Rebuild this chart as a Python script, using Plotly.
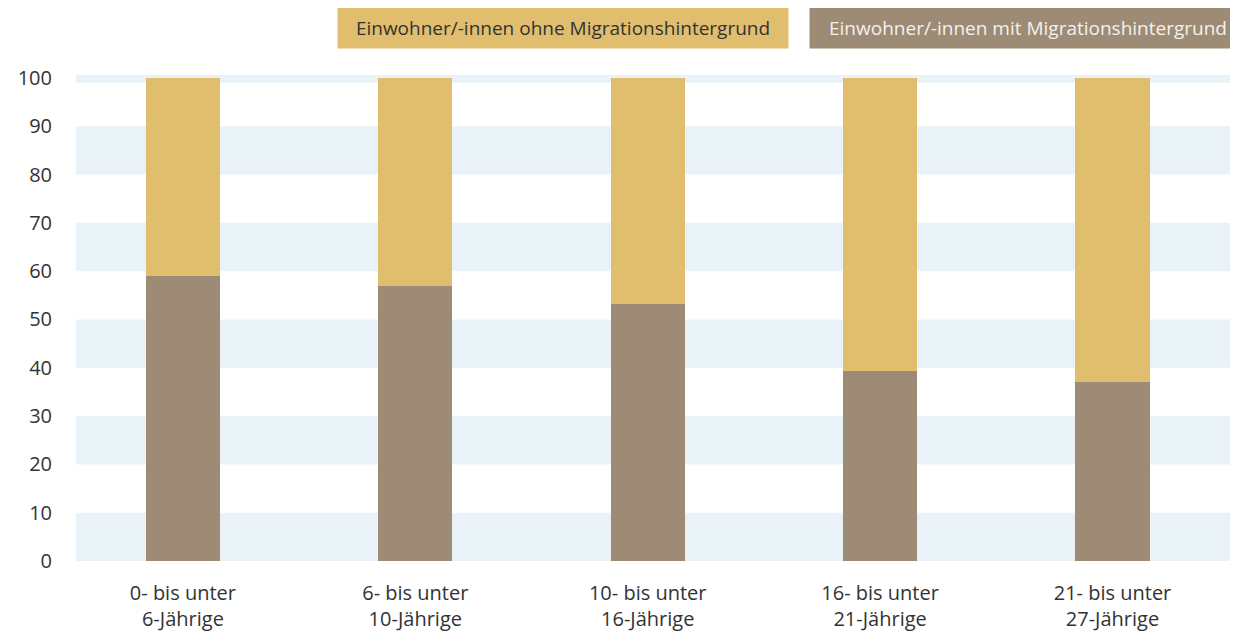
import plotly.graph_objects as go

# Altersgruppen und Anteile (%) je Gruppe
categories = [
    "0- bis unter<br>6-Jährige",
    "6- bis unter<br>10-Jährige",
    "10- bis unter<br>16-Jährige",
    "16- bis unter<br>21-Jährige",
    "21- bis unter<br>27-Jährige",
]
mit_migration = [59.0, 57.0, 53.3, 39.3, 37.0]
ohne_migration = [41.0, 43.0, 46.7, 60.7, 63.0]
y_ticks = [0, 10, 20, 30, 40, 50, 60, 70, 80, 90, 100]

label_ohne = "Einwohner/-innen ohne Migrationshintergrund"
label_mit = "Einwohner/-innen mit Migrationshintergrund"

YELLOW = "#E0BE6E"
BROWN = "#9D8B75"
BAND = "#E9F2F6"
FONT = "Open Sans"

PLOT_W = 1170  # plot area width in px

fig = go.Figure()

fig.add_trace(go.Bar(
    x=categories, y=mit_migration, name=label_mit,
    marker=dict(color=BROWN, line=dict(width=0)), width=0.32,
))
fig.add_trace(go.Bar(
    x=categories, y=ohne_migration, name=label_ohne,
    marker=dict(color=YELLOW, line=dict(width=0)), width=0.32,
))

# alternating background bands
shapes = []
for lo in range(0, 100, 20):
    shapes.append(dict(type="rect", xref="paper", yref="y", x0=0, x1=1,
                       y0=lo, y1=lo + 10, fillcolor=BAND, line_width=0, layer="below"))
shapes.append(dict(type="rect", xref="paper", yref="y", x0=0, x1=1,
                   y0=99.0, y1=100.6, fillcolor=BAND, line_width=0, layer="below"))

# legend boxes drawn as annotations
annotations = [
    dict(text=label_ohne, xref="paper", yref="paper", x=(337 - 76) / PLOT_W, y=1.0977,
         xanchor="left", yanchor="middle", showarrow=False, bgcolor=YELLOW,
         width=450, height=41, borderpad=0, align="center",
         font=dict(family=FONT, size=19, color="#333333")),
    dict(text=label_mit, xref="paper", yref="paper", x=(809 - 76) / PLOT_W, y=1.0977,
         xanchor="left", yanchor="middle", showarrow=False, bgcolor=BROWN,
         width=436, height=41, borderpad=0, align="center",
         font=dict(family=FONT, size=19, color="#f4f1ec")),
]

# page body has an 8px margin; plot area runs past the right window edge
fig.update_layout(
    barmode="stack",
    width=1238, height=624,
    margin=dict(l=68, r=0, t=67, b=71),
    paper_bgcolor="white", plot_bgcolor="white",
    showlegend=False,
    shapes=shapes,
    annotations=annotations,
    font=dict(family=FONT, size=20, color="#333333"),
    xaxis=dict(range=[-0.46, -0.46 + PLOT_W / 232.4], showgrid=False, zeroline=False,
               showline=False, ticks="", tickfont=dict(size=20, color="#333333"),
               ticklabelstandoff=18),
    yaxis=dict(range=[0, 100.6], tickvals=y_ticks, showgrid=False, zeroline=False,
               showline=False, ticks="", tickfont=dict(size=20, color="#333333"),
               ticklabelstandoff=23),
)

fig.write_html("out.html")
